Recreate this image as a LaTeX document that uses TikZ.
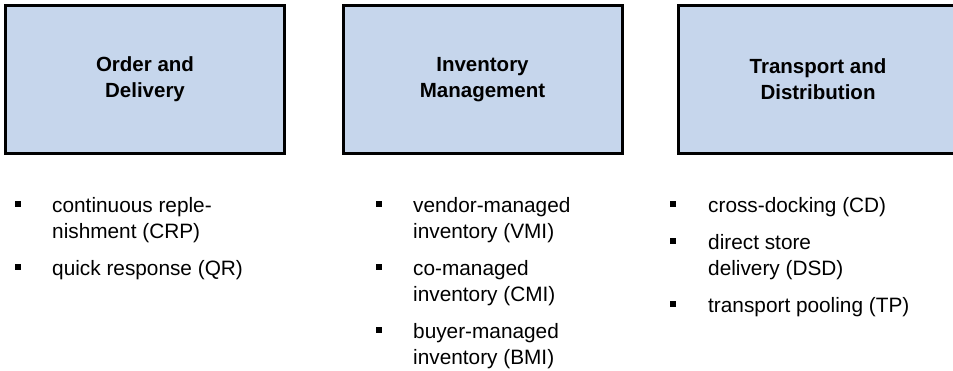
\documentclass[tikz,border=0pt]{standalone}
\usepackage{fontspec}
\setmainfont{Liberation Sans}
\usepackage{xcolor}
\usetikzlibrary{positioning}
\definecolor{areablue}{RGB}{198,214,236}

\begin{document}
\begin{tikzpicture}[
    x=1pt, y=-1pt,
    font=\fontsize{20.8}{26}\selectfont,
    area/.style={rectangle, draw, line width=3pt, fill=areablue, minimum width=279pt, minimum height=148pt, font=\fontsize{20.5}{26}\selectfont\bfseries, align=center},
    % base west sits on the last line of the text
    item/.style={anchor=base west, align=left, inner sep=0pt},
    bullet/.style={rectangle, fill=black, minimum width=6pt, minimum height=6pt, inner sep=0pt}
]
\useasboundingbox (0,0) rectangle (953,370);

% Order and Delivery
\node[area] (order) at (145,79.5) {Order and\\Delivery};
\node[bullet] (crpb) at (18,203.5) {};
\node[item] (crp) at (52,238) {continuous reple-\\nishment (CRP)};
\node[bullet] (qrb) at (18,266.5) {};
\node[item] (qr) at (52,275) {quick response (QR)};

% Inventory Management
\node[area] (inventory) at (482.5,79.5) {Inventory\\Management};
\node[bullet] (vmib) at (379,203.5) {};
\node[item] (vmi) at (413,238) {vendor-managed\\inventory (VMI)};
\node[bullet] (cmib) at (379,266.5) {};
\node[item] (cmi) at (413,301) {co-managed\\inventory (CMI)};
\node[bullet] (bmib) at (379,329.5) {};
\node[item] (bmi) at (413,364) {buyer-managed\\inventory (BMI)};

% Transport and Distribution
\node[area] (transport) at (818,79.5) {Transport and\\Distribution};
\node[bullet] (cdb) at (673,203.5) {};
\node[item] (cd) at (708,212) {cross-docking (CD)};
\node[bullet] (dsdb) at (673,240.5) {};
\node[item] (dsd) at (708,275) {direct store\\delivery (DSD)};
\node[bullet] (tpb) at (673,303.5) {};
\node[item] (tp) at (708,312) {transport pooling (TP)};

\end{tikzpicture}
\end{document}
